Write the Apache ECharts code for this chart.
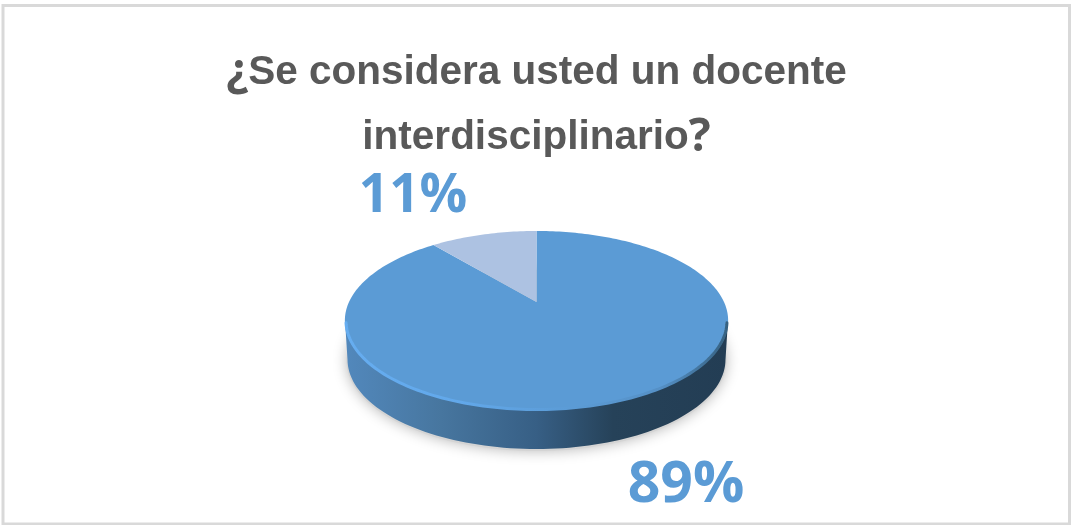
<!DOCTYPE html>
<html><head><meta charset="utf-8">
<style>html,body{margin:0;padding:0;background:#fff}#c{width:1071px;height:525px}</style>
<script src="https://cdn.jsdelivr.net/npm/echarts@6/dist/echarts.min.js"></script>
</head><body><div id="c"></div>
<script>
const categories = ['Sí', 'No'];
const seriesValues = [89, 11];
const sliceColors = ['#5b9bd5', '#adc2e2'];
const total = seriesValues.reduce((a, b) => a + b, 0);

// perspective projection of the unit disc
const APEX = [537, 302], K = 0.2067, AY = 85.7, AX = 187.5;
function project(theta) {
  const u = Math.sin(theta), v = Math.cos(theta), w = 1 + K * v;
  return [APEX[0] - 0.5 + AX * u / w, APEX[1] - AY * v / w];
}
function ellipseArc(cx, cy, rx, ry, a0, a1, n) {
  const p = [];
  for (let i = 0; i <= n; i++) {
    const t = a0 + (a1 - a0) * i / n;
    p.push([cx + rx * Math.cos(t), cy + ry * Math.sin(t)]);
  }
  return p;
}
const TOP = [536.5, 320.5, 191.5, 89.5], BOT = [536.5, 359.5, 189, 89.5];
const LG = (stops) => new echarts.graphic.LinearGradient(0, 0, 1, 0, stops.map(s => ({ offset: s[0], color: s[1] })));

function renderItem(params, api) {
  const idx = params.dataIndex;
  const children = [];
  if (idx === 0) {
    children.push({
      type: 'polygon',
      shape: { points: ellipseArc(BOT[0], BOT[1] + 1, BOT[2] + 1, BOT[3] + 1, 0, Math.PI * 2, 120) },
      style: { fill: '#d4d4d4', shadowBlur: 14, shadowColor: 'rgba(0,0,0,0.28)' }
    });
    const wall = ellipseArc(TOP[0], TOP[1], TOP[2], TOP[3], 0, Math.PI, 90)
      .concat(ellipseArc(BOT[0], BOT[1], BOT[2], BOT[3], Math.PI, 0, 90));
    children.push({
      type: 'polygon', shape: { points: wall },
      style: { fill: LG([[0, '#5288bc'], [0.25, '#47769f'], [0.5, '#375f85'], [0.7, '#264259'], [1, '#233d54']]) }
    });
  }
  let before = 0;
  for (let i = 0; i < idx; i++) before += seriesValues[i];
  const value = api.value(0);
  const a0 = before / total * Math.PI * 2, a1 = (before + value) / total * Math.PI * 2;
  const pts = [[APEX[0] - 0.5, APEX[1]]];
  const n = Math.max(4, Math.round(value * 3));
  for (let i = 0; i <= n; i++) pts.push(project(a0 + (a1 - a0) * i / n));
  children.push({ type: 'polygon', shape: { points: pts }, style: { fill: sliceColors[idx] } });
  if (idx === seriesValues.length - 1) {
    children.push({
      type: 'polyline',
      shape: { points: ellipseArc(TOP[0], TOP[1] + 0.5, TOP[2] - 1, TOP[3] - 1, 0.02, Math.PI - 0.02, 120) },
      style: { fill: 'none', lineWidth: 3, lineCap: 'round', stroke: LG([[0, '#66adf0'], [0.3, '#62a8ea'], [0.6, '#5b9bd5'], [0.82, '#5590c6'], [1, '#35607f']]) }
    });
  }
  return { type: 'group', children };
}

const LABEL_POS = [[413, 197], [686, 486]].reverse();
const LABEL_SIZE = [57, 53];
const option = {
  animation: false,
  backgroundColor: '#fff',
  graphic: [{
    type: 'rect', silent: true, z: -1,
    shape: { x: 3, y: 5.5, width: 1066.5, height: 518.5 },
    style: { fill: '#fff', stroke: '#d9d9d9', lineWidth: 3 }
  }],
  title: {
    text: '{q|¿}{t|Se considera usted un docente}\n{t|interdisciplinario}{q|?}',
    left: 531.5, top: 35, textAlign: 'center',
    textStyle: {
      rich: {
        t: { fontFamily: 'Liberation Sans', fontWeight: 'bold', fontSize: 40.5, color: '#595959', lineHeight: 65 },
        q: { fontFamily: 'Open Sans', fontWeight: 'bold', fontSize: 46, color: '#595959', lineHeight: 65 }
      }
    }
  },
  series: [{
    type: 'custom',
    coordinateSystem: 'none',
    renderItem,
    data: categories.map((c, i) => ({ name: c, value: [seriesValues[i]] }))
  }, {
    type: 'custom',
    coordinateSystem: 'none',
    z: 5,
    renderItem: (params, api) => ({
      type: 'text',
      style: {
        x: LABEL_POS[params.dataIndex][0], y: LABEL_POS[params.dataIndex][1],
        text: api.value(0) + '%', align: 'center', verticalAlign: 'middle',
        fontFamily: 'Open Sans', fontWeight: 'bold', fontSize: LABEL_SIZE[params.dataIndex], fill: '#5b9bd5'
      }
    }),
    data: seriesValues.map(v => [v])
  }]
};
const chart = echarts.init(document.getElementById('c'));
chart.setOption(option);
</script></body></html>
